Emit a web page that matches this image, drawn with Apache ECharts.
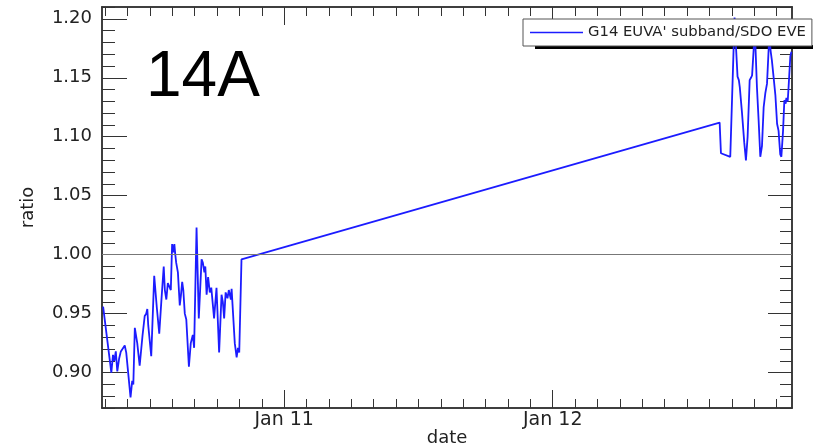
<!DOCTYPE html>
<html><head><meta charset="utf-8">
<script src="https://cdn.jsdelivr.net/npm/echarts@6/dist/echarts.min.js"></script>
<style>html,body{margin:0;padding:0;background:#fff}#c{width:814px;height:446px}</style>
</head><body><div id="c"></div>
<script>
const seriesName = "G14 EUVA' subband/SDO EVE";
const panelLabel = '14A';
const xAxisName = 'date';
const yAxisName = 'ratio';
const xMin = '2010-01-10 07:43';
const xMax = '2010-01-12 21:23';
const yMin = 0.87, yMax = 1.21;
const refLevel = 1.0;
const xMajorTimes = ['2010-01-11 00:00', '2010-01-12 00:00'];
const xMajorLabels = ['Jan 11', 'Jan 12'];
const yMajorValues = [0.90, 0.95, 1.00, 1.05, 1.10, 1.15, 1.20];
const yMajorLabels = ['0.90', '0.95', '1.00', '1.05', '1.10', '1.15', '1.20'];

const times = [
 '2010-01-10 07:49','2010-01-10 08:33','2010-01-10 08:42','2010-01-10 08:49','2010-01-10 08:57','2010-01-10 09:05','2010-01-10 09:15','2010-01-10 09:24','2010-01-10 09:34','2010-01-10 09:45',
 '2010-01-10 09:53','2010-01-10 10:01','2010-01-10 10:16','2010-01-10 10:25','2010-01-10 10:31','2010-01-10 10:39','2010-01-10 10:52','2010-01-10 11:05','2010-01-10 11:20','2010-01-10 11:27',
 '2010-01-10 11:32','2010-01-10 11:40','2010-01-10 11:46','2010-01-10 11:51','2010-01-10 11:59','2010-01-10 12:07','2010-01-10 12:23','2010-01-10 12:37','2010-01-10 12:50','2010-01-10 13:01',
 '2010-01-10 13:14','2010-01-10 13:20','2010-01-10 13:28','2010-01-10 13:36','2010-01-10 13:44','2010-01-10 13:52','2010-01-10 13:59','2010-01-10 14:05','2010-01-10 14:11','2010-01-10 14:16',
 '2010-01-10 14:21','2010-01-10 14:30','2010-01-10 14:40','2010-01-10 14:46','2010-01-10 14:53','2010-01-10 14:59','2010-01-10 15:07','2010-01-10 15:15','2010-01-10 15:29','2010-01-10 15:39',
 '2010-01-10 15:50','2010-01-10 15:57','2010-01-10 16:10','2010-01-10 16:22','2010-01-10 16:37','2010-01-10 16:44','2010-01-10 16:52','2010-01-10 16:57','2010-01-10 17:04','2010-01-10 17:12',
 '2010-01-10 17:21','2010-01-10 17:29','2010-01-10 17:44','2010-01-10 17:57','2010-01-10 18:11','2010-01-10 18:24','2010-01-10 18:31','2010-01-10 18:38','2010-01-10 18:46','2010-01-10 18:56',
 '2010-01-10 19:03','2010-01-10 19:14','2010-01-10 19:18','2010-01-10 19:35','2010-01-10 19:45','2010-01-10 19:52','2010-01-10 19:59','2010-01-10 20:11',
 '2010-01-12 14:55','2010-01-12 15:02','2010-01-12 15:52','2010-01-12 16:15','2010-01-12 16:24','2010-01-12 16:31','2010-01-12 16:38','2010-01-12 16:43','2010-01-12 16:55','2010-01-12 17:07',
 '2010-01-12 17:16','2010-01-12 17:25','2010-01-12 17:36','2010-01-12 17:43','2010-01-12 17:49','2010-01-12 17:57','2010-01-12 18:04','2010-01-12 18:15','2010-01-12 18:24','2010-01-12 18:33',
 '2010-01-12 18:42','2010-01-12 18:51','2010-01-12 19:00','2010-01-12 19:09','2010-01-12 19:18','2010-01-12 19:21','2010-01-12 19:29','2010-01-12 19:35','2010-01-12 19:44','2010-01-12 19:54',
 '2010-01-12 20:03','2010-01-12 20:07','2010-01-12 20:11','2010-01-12 20:20','2010-01-12 20:26','2010-01-12 20:35','2010-01-12 20:42','2010-01-12 20:49','2010-01-12 20:53','2010-01-12 21:00',
 '2010-01-12 21:05','2010-01-12 21:14','2010-01-12 21:20'
];
const ratios = [
 0.956,0.900,0.915,0.910,0.918,0.901,0.912,0.918,0.919,0.923,
 0.917,0.918,0.879,0.893,0.890,0.938,0.925,0.906,0.931,0.930,
 0.948,0.950,0.954,0.940,0.939,0.914,0.982,0.955,0.933,0.960,
 0.990,0.970,0.962,0.976,0.975,0.970,1.009,1.002,1.009,1.000,
 0.993,0.985,0.957,0.965,0.977,0.970,0.950,0.945,0.905,0.925,
 0.932,0.921,1.023,0.946,0.996,0.993,0.985,0.990,0.966,0.981,
 0.968,0.972,0.946,0.972,0.917,0.966,0.960,0.946,0.968,0.963,
 0.970,0.962,0.971,0.925,0.913,0.921,0.917,0.996,
 1.112,1.086,1.083,1.201,1.172,1.151,1.148,1.142,1.120,1.095,
 1.080,1.100,1.148,1.150,1.152,1.173,1.190,1.142,1.114,1.083,
 1.092,1.125,1.137,1.145,1.175,1.185,1.172,1.165,1.151,1.135,
 1.111,1.110,1.105,1.085,1.083,1.105,1.131,1.128,1.133,1.130,
 1.143,1.168,1.172
];

// hours since the start of 2010-01-10 (numeric x scale)
const T0 = Date.UTC(2010, 0, 10, 0, 0);
function hrs(s) {
  const m = s.match(/(\d+)-(\d+)-(\d+) (\d+):(\d+)/);
  return (Date.UTC(+m[1], +m[2] - 1, +m[3], +m[4], +m[5]) - T0) / 3600000;
}
const hMin = hrs(xMin), hMax = hrs(xMax);
const xMajor = xMajorTimes.map(hrs);
const xMinor = [];
for (let h = 8; h <= hMax; h += 2) { if (xMajor.indexOf(h) < 0) xMinor.push(h); }
const yMinor = [];
for (let k = 87; k <= 121; k++) { if (k % 5 !== 0) yMinor.push(k / 100); }

const data = times.map((t, i) => [hrs(t), ratios[i]]);

const FONT = 'DejaVu Sans';
const lineCol = '#333';
const tickCol = '#333';
const blue = '#1c1cff';

function nearestIdx(arr, v) {
  let best = 0; arr.forEach((a, i) => { if (Math.abs(a - v) < Math.abs(arr[best] - v)) best = i; });
  return best;
}
function xAx(pos, ticks, len, labels) {
  return {
    type: 'value', position: pos, min: hMin, max: hMax, gridIndex: 0,
    axisLine: { show: true, onZero: false, lineStyle: { color: lineCol, width: 1.5 } },
    axisTick: { show: true, inside: true, length: len, customValues: ticks, lineStyle: { color: tickCol, width: 1 } },
    axisLabel: labels ? {
      show: true, customValues: xMajor, margin: 3, color: '#222', fontFamily: FONT, fontSize: 19,
      formatter: function (v) { return xMajorLabels[nearestIdx(xMajor, v)]; }
    } : { show: false },
    splitLine: { show: false },
    name: labels ? xAxisName : '', nameLocation: 'middle', nameGap: 21, nameMoveOverlap: false,
    nameTextStyle: { fontFamily: FONT, fontSize: 18, color: '#222' }
  };
}
function yAx(pos, ticks, len, labels) {
  return {
    type: 'value', position: pos, min: yMin, max: yMax, gridIndex: 0,
    axisLine: { show: true, onZero: false, lineStyle: { color: lineCol, width: 1.5 } },
    axisTick: { show: true, inside: true, length: len, customValues: ticks, lineStyle: { color: tickCol, width: 1 } },
    axisLabel: labels ? {
      show: true, customValues: yMajorValues, margin: 10, color: '#222', fontFamily: FONT, fontSize: 18,
      formatter: function (v) { return yMajorLabels[nearestIdx(yMajorValues, v)]; }
    } : { show: false },
    splitLine: { show: false },
    name: labels ? yAxisName : '', nameLocation: 'middle', nameGap: 65, nameRotate: 90,
    nameTextStyle: { fontFamily: FONT, fontSize: 18, color: '#222' }
  };
}

const chart = echarts.init(document.getElementById('c'), null, { renderer: 'canvas' });
chart.setOption({
  animation: false,
  backgroundColor: '#fff',
  grid: { left: 102, right: 22, top: 7, bottom: 38, containLabel: false, outerBoundsMode: 'none' },
  xAxis: [
    xAx('bottom', xMajor, 18, true),
    xAx('bottom', xMinor, 9, false),
    xAx('top', xMajor, 18, false),
    xAx('top', xMinor, 9, false)
  ],
  yAxis: [
    yAx('left', yMajorValues, 25, true),
    yAx('left', yMinor, 13, false),
    yAx('right', yMajorValues, 24, false),
    yAx('right', yMinor, 12, false)
  ],
  legend: {
    show: true, left: 523, top: 19, orient: 'horizontal',
    padding: [6, 6, 6, 7], itemWidth: 53, itemHeight: 1.5, icon: 'rect',
    backgroundColor: '#fff', borderColor: '#555', borderWidth: 1,
    textStyle: { fontFamily: FONT, fontSize: 14.8, color: '#222' },
    data: [seriesName]
  },
  graphic: [
    { type: 'rect', z: 3, shape: { x: 535, y: 45, width: 278, height: 4 }, style: { fill: '#000' } },
    { type: 'text', z: 5, style: { text: panelLabel, x: 146, y: 78, font: '64px "Liberation Sans"', fill: '#000', verticalAlign: 'middle', textVerticalAlign: 'middle' } }
  ],
  series: [{
    name: seriesName, type: 'line', xAxisIndex: 0, yAxisIndex: 0,
    data: data, symbol: 'none', showSymbol: false,
    lineStyle: { color: blue, width: 1.8 }, itemStyle: { color: blue },
    markLine: {
      silent: true, symbol: 'none', label: { show: false },
      lineStyle: { color: '#777', width: 1, type: 'solid' },
      data: [{ yAxis: refLevel }]
    }
  }]
});
</script></body></html>
